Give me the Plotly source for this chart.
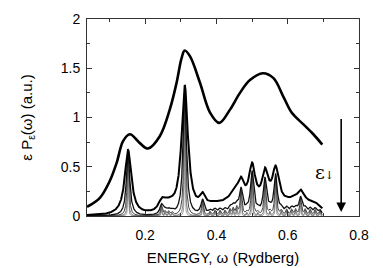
import numpy as np
import plotly.graph_objects as go

# Broadest spectrum (thick curve)
omega_broad = [0.0368, 0.073, 0.10, 0.12, 0.138, 0.157, 0.185, 0.208, 0.241, 0.269, 0.288,
               0.302, 0.311, 0.326, 0.354, 0.382, 0.408, 0.438, 0.466, 0.494, 0.53, 0.56,
               0.588, 0.611, 0.644, 0.672, 0.697]
value_broad = [0.093, 0.185, 0.35, 0.54, 0.76, 0.83, 0.74, 0.685, 0.81, 1.08, 1.35,
               1.60, 1.68, 1.62, 1.35, 1.05, 0.945, 1.08, 1.25, 1.38, 1.45, 1.40,
               1.21, 1.05, 0.93, 0.83, 0.725]

# Excitation lines (position in Rydberg, peak height of eps*P)
peak_pos = [0.152, 0.246, 0.256, 0.266, 0.276, 0.311, 0.361, 0.382, 0.396, 0.410, 0.424,
            0.438, 0.447, 0.457, 0.469, 0.485, 0.500, 0.516, 0.536, 0.550, 0.566, 0.582,
            0.597, 0.611, 0.622, 0.636, 0.649, 0.663, 0.677, 0.690]
peak_height = [0.66, 0.10, 0.04, 0.04, 0.03, 1.30, 0.15, 0.04, 0.05, 0.05, 0.05,
               0.06, 0.07, 0.08, 0.25, 0.03, 0.43, 0.03, 0.36, 0.04, 0.40, 0.05,
               0.06, 0.06, 0.06, 0.17, 0.06, 0.06, 0.06, 0.05]

# Broadening parameters epsilon (Rydberg) of the narrower spectra, largest first
epsilons = [0.011, 0.0055, 0.003, 0.0016, 0.0008]
line_colors = ["#000000", "#111111", "#444444", "#666666", "#888888"]
line_widths = [2.0, 1.3, 1.0, 0.8, 0.8]

x_ticks = [0.2, 0.4, 0.6, 0.8]
y_ticks = [0, 0.5, 1, 1.5, 2]

omega_grid = np.union1d(np.arange(0.0368, 0.697, 0.0002), np.array(peak_pos))
pp = np.array(peak_pos)[:, None]
hh = np.array(peak_height)[:, None]

fig = go.Figure()
for eps, col, lw in zip(epsilons[::-1], line_colors[::-1], line_widths[::-1]):
    spec = (hh * eps**2 / ((omega_grid[None, :] - pp) ** 2 + eps**2)).sum(axis=0)
    fig.add_trace(go.Scatter(x=omega_grid, y=spec, mode="lines",
                             line=dict(color=col, width=lw), showlegend=False,
                             hoverinfo="skip"))

fig.add_trace(go.Scatter(x=omega_broad, y=value_broad, mode="lines",
                         line=dict(color="black", width=2.6, shape="spline", smoothing=1.0),
                         showlegend=False))

font_family = "Liberation Sans, Arial, sans-serif"
axis_common = dict(showline=True, linecolor="#333333", linewidth=1, mirror="ticks",
                   ticks="inside", ticklen=5, tickwidth=1, tickcolor="#333333",
                   showgrid=False, zeroline=False, automargin=False,
                   tickfont=dict(family=font_family, size=14, color="black"))

# The page body adds an 8 px offset, so the figure is sized to fit the 383x268 window
fig.update_layout(
    template="none",
    width=375, height=260,
    margin=dict(l=79, r=24, t=11, b=52),
    paper_bgcolor="white", plot_bgcolor="white",
    font=dict(family=font_family, color="black"),
    xaxis=dict(range=[0.0368, 0.8], tickvals=x_ticks, ticktext=[str(v) for v in x_ticks],
               minor=dict(dtick=0.1, tick0=0, ticks="inside", ticklen=3, tickcolor="#333333"),
               ticklabelstandoff=6,
               title=dict(text="ENERGY, ω (Rydberg)", font=dict(size=15), standoff=10),
               **axis_common),
    yaxis=dict(range=[0, 2], tickvals=y_ticks, ticktext=["0", "0.5", "1", "1.5", "2"],
               minor=dict(dtick=0.25, tick0=0, ticks="inside", ticklen=3, tickcolor="#333333"),
               ticklabelstandoff=3,
               title=dict(text="ε P<sub>ε</sub>(ω) (a.u.)", font=dict(size=15), standoff=24),
               **axis_common),
    annotations=[
        dict(x=0.75, y=0.04, ax=0.75, ay=1.0, xref="x", yref="y", axref="x", ayref="y",
             showarrow=True, arrowhead=2, arrowsize=1.2, arrowwidth=1.6, arrowcolor="black",
             text=""),
        dict(x=0.703, y=0.45, xref="x", yref="y", showarrow=False,
             text="ε<span style='font-size:11px'>↓</span>",
             font=dict(family="DejaVu Serif, serif", size=19, color="black")),
    ],
)

fig.write_html("out.html")
